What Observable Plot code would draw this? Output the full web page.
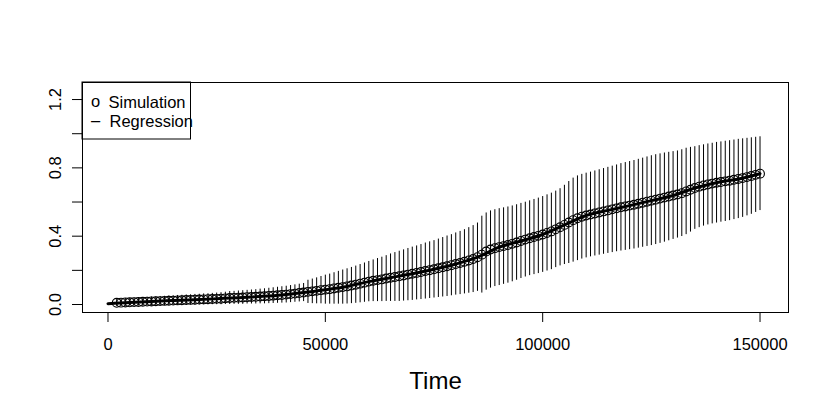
<!DOCTYPE html>
<html>
<head>
<meta charset="utf-8">
<script src="https://cdn.jsdelivr.net/npm/d3@7"></script>
<script src="https://cdn.jsdelivr.net/npm/@observablehq/plot@0.6"></script>
<style>
  html, body { margin: 0; padding: 0; background: #fff; }
  svg { display: block; }
</style>
</head>
<body>
<div id="chart"></div>
<script>
// Simulation time points: 2000 .. 150000 every 1000
const simTimeStart = 2000, simTimeStep = 1000;
const simMean = [
  0.010,0.011,0.012,0.013,0.014,0.015,0.016,0.017,0.018,
  0.019,0.020,0.021,0.022,0.023,0.024,0.025,0.026,0.027,0.028,
  0.029,0.030,0.031,0.032,0.033,0.034,0.036,0.038,0.039,0.040,
  0.041,0.043,0.044,0.045,0.047,0.048,0.050,0.052,0.054,0.056,
  0.058,0.061,0.064,0.067,0.070,0.074,0.077,0.080,0.084,0.087,
  0.090,0.094,0.098,0.102,0.106,0.111,0.116,0.122,0.128,0.134,
  0.139,0.143,0.147,0.152,0.157,0.161,0.165,0.170,0.175,0.180,
  0.185,0.190,0.196,0.201,0.206,0.212,0.218,0.224,0.230,0.237,
  0.243,0.250,0.258,0.266,0.277,0.292,0.310,0.322,0.330,0.336,
  0.342,0.348,0.355,0.363,0.372,0.380,0.388,0.395,0.402,0.410,
  0.419,0.428,0.440,0.452,0.466,0.480,0.494,0.505,0.514,0.521,
  0.527,0.533,0.539,0.545,0.551,0.557,0.563,0.569,0.574,0.579,
  0.584,0.590,0.596,0.602,0.608,0.614,0.620,0.626,0.632,0.638,
  0.644,0.652,0.662,0.672,0.682,0.690,0.697,0.703,0.708,0.713,
  0.717,0.721,0.725,0.730,0.735,0.740,0.746,0.752,0.759,0.766
];
const simSd = [
  0.022,0.022,0.023,0.023,0.024,0.024,0.025,0.025,0.026,
  0.026,0.027,0.027,0.028,0.028,0.029,0.029,0.030,0.030,0.031,
  0.031,0.032,0.032,0.033,0.034,0.035,0.036,0.038,0.038,0.039,
  0.040,0.040,0.041,0.042,0.043,0.044,0.045,0.046,0.047,0.048,
  0.049,0.050,0.051,0.052,0.053,0.068,0.072,0.076,0.080,0.085,
  0.088,0.092,0.096,0.100,0.103,0.106,0.109,0.112,0.115,0.118,
  0.122,0.126,0.130,0.134,0.139,0.143,0.147,0.150,0.153,0.156,
  0.158,0.161,0.164,0.166,0.168,0.171,0.174,0.177,0.179,0.182,
  0.185,0.188,0.192,0.196,0.200,0.225,0.226,0.226,0.225,0.225,
  0.224,0.223,0.222,0.221,0.220,0.219,0.219,0.220,0.221,0.222,
  0.223,0.224,0.224,0.226,0.232,0.240,0.246,0.248,0.248,0.248,
  0.248,0.249,0.250,0.251,0.252,0.253,0.254,0.256,0.257,0.258,
  0.259,0.260,0.261,0.262,0.263,0.263,0.262,0.261,0.259,0.257,
  0.255,0.254,0.253,0.248,0.242,0.240,0.238,0.237,0.236,0.236,
  0.235,0.235,0.234,0.233,0.232,0.230,0.227,0.224,0.220,0.216
];
// Regression curve
const regTime = [0,5000,10000,15000,20000,25000,30000,35000,40000,45000,50000,55000,60000,65000,70000,75000,80000,85000,90000,95000,100000,105000,110000,115000,120000,125000,130000,135000,140000,145000,150000];
const regValue = [0.005,0.012,0.018,0.023,0.028,0.034,0.040,0.047,0.056,0.070,0.087,0.106,0.134,0.157,0.180,0.206,0.237,0.277,0.336,0.372,0.410,0.466,0.521,0.551,0.579,0.608,0.638,0.682,0.713,0.735,0.766];

const xTicks = [0, 50000, 100000, 150000];
const yTicks = [0, 0.2, 0.4, 0.6, 0.8, 1.0, 1.2];
const yLabels = [0, 0.4, 0.8, 1.2];
const xTitle = "Time";
const legendLabels = ["Simulation", "Regression"];
const legendSymbols = ["o", "\u2013"];

const sim = simMean.map((m, i) => ({t: simTimeStart + i * simTimeStep, m, lo: m - simSd[i], hi: m + simSd[i]}));
const reg = regTime.map((t, i) => ({t, v: regValue[i]}));
const legend = legendLabels.map((label, i) => ({label, symbol: legendSymbols[i], row: i}));

const FONT = "'Liberation Sans', Arial, Helvetica, sans-serif";

const chart = Plot.plot({
  width: 830,
  height: 415,
  marginTop: 82,
  marginBottom: 103,
  marginLeft: 82,
  marginRight: 42,
  style: {fontFamily: FONT, fontSize: "16.5px", color: "#000", background: "#fff"},
  x: {domain: [-5866, 156550], axis: null},
  y: {domain: [-0.0468, 1.2998], axis: null},
  marks: [
    Plot.frame({stroke: "#000", strokeWidth: 1}),
    Plot.axisX({ticks: xTicks, tickSize: 10, tickFormat: () => "", label: null, stroke: "#000"}),
    Plot.axisY({ticks: yTicks, tickSize: 10, tickFormat: () => "", label: null, stroke: "#000"}),
    Plot.text(xTicks, {x: d => d, frameAnchor: "bottom", dy: 37, lineAnchor: "bottom", text: d => String(d), fontSize: 16.5, fill: "#000"}),
    Plot.text(yLabels, {y: d => d, frameAnchor: "left", dx: -22, rotate: -90, textAnchor: "middle", lineAnchor: "bottom", text: d => d.toFixed(1), fontSize: 16.5, fill: "#000"}),
    Plot.text([xTitle], {frameAnchor: "bottom", dy: 76, lineAnchor: "bottom", text: d => d, fontSize: 24, fill: "#000"}),
    Plot.ruleX(sim, {x: "t", y1: "lo", y2: "hi", stroke: "#000", strokeWidth: 1}),
    Plot.dot(sim, {x: "t", y: "m", r: 4.4, stroke: "#000", strokeWidth: 1.1, fill: "none"}),
    Plot.line(reg, {x: "t", y: "v", stroke: "#000", strokeWidth: 3, curve: "monotone-x"}),
    // legend
    Plot.text(legend, {frameAnchor: "top-left", dx: 13, text: "symbol", fontSize: 16.5, fill: "#000", textAnchor: "middle", lineAnchor: "bottom", filter: d => d.row === 0, dy: 24}),
    Plot.text(legend, {frameAnchor: "top-left", dx: 13, text: "symbol", fontSize: 16.5, fill: "#000", textAnchor: "middle", lineAnchor: "bottom", filter: d => d.row === 1, dy: 43}),
    Plot.text(legend, {frameAnchor: "top-left", dx: 26, text: "label", fontSize: 16.5, fill: "#000", textAnchor: "start", lineAnchor: "bottom", filter: d => d.row === 0, dy: 25.5}),
    Plot.text(legend, {frameAnchor: "top-left", dx: 27, text: "label", fontSize: 16.5, fill: "#000", textAnchor: "start", lineAnchor: "bottom", filter: d => d.row === 1, dy: 44})
  ]
});

// legend box drawn on top
const svg = d3.select(chart);
svg.append("rect")
  .attr("x", 82).attr("y", 82)
  .attr("width", 108.5).attr("height", 57)
  .attr("fill", "none").attr("stroke", "#000").attr("stroke-width", 1);

document.getElementById("chart").appendChild(chart);
</script>
</body>
</html>
